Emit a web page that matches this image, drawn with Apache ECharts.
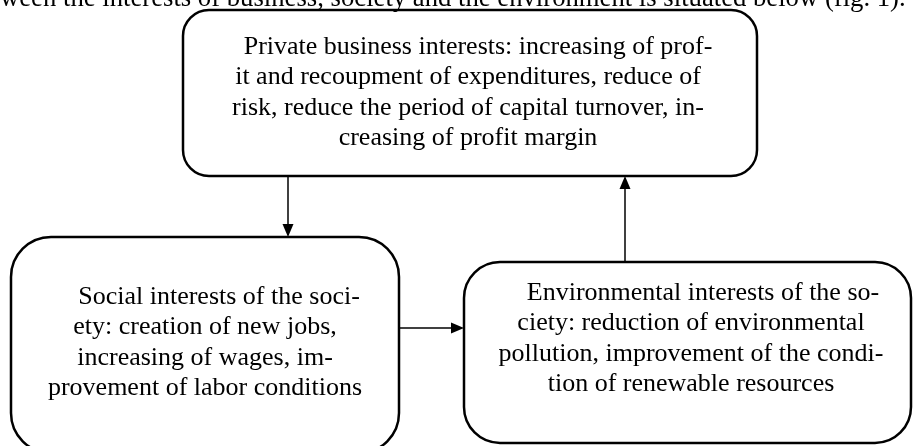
<!DOCTYPE html>
<html>
<head>
<meta charset="utf-8">
<script src="https://cdn.jsdelivr.net/npm/echarts@6/dist/echarts.min.js"></script>
<style>
  html, body { margin: 0; padding: 0; background: #fff; }
  #main { width: 918px; height: 446px; }
</style>
</head>
<body>
<div id="main"></div>
<script>
// text of the diagram
var headerLine = 'ween the interests of business, society and the environment is situated below (fig. 1).';
var businessLines = [
    'Private business interests: increasing of prof-',
    'it and recoupment of expenditures, reduce of',
    'risk, reduce the period of capital turnover, in-',
    'creasing of profit margin'
];
var socialLines = [
    'Social interests of the soci-',
    'ety: creation of new jobs,',
    'increasing of wages, im-',
    'provement of labor conditions'
];
var envLines = [
    'Environmental interests of the so-',
    'ciety: reduction of environmental',
    'pollution, improvement of the condi-',
    'tion of renewable resources'
];

var FONT = '"Liberation Serif", "Times New Roman", serif';
var FS = 26;
var LH = 30.5;

// box geometry
var boxes = [
    { lines: businessLines, x: 183, y: 10, w: 574, h: 166, r: 26, cx: 468, ty: 47, indent: 10 },
    { lines: socialLines, x: 11, y: 237, w: 388, h: 216, r: 40, cx: 205, ty: 297, indent: 14 },
    { lines: envLines, x: 464, y: 262, w: 447, h: 181, r: 36, cx: 691, ty: 293, indent: 12 }
];

var myChart = echarts.init(document.getElementById('main'));
var elements = [];

boxes.forEach(function (b) {
    elements.push({
        type: 'rect',
        shape: { x: b.x, y: b.y, width: b.w, height: b.h, r: b.r },
        style: { fill: '#fff', stroke: '#000', lineWidth: 2.5 }
    });
    b.lines.forEach(function (t, i) {
        elements.push({
            type: 'text',
            x: b.cx + (i === 0 ? b.indent : 0),
            y: b.ty + i * LH,
            style: {
                text: t,
                font: FS + 'px ' + FONT,
                fill: '#000',
                align: 'center',
                verticalAlign: 'middle'
            }
        });
    });
});

// cut-off line of the page text above the figure
elements.push({
    type: 'text',
    left: 0,
    top: -15,
    z: 10,
    style: { text: headerLine, font: '26.7px ' + FONT, fill: '#000' }
});

function arrow(x1, y1, x2, y2) {
    var dx = x2 - x1, dy = y2 - y1;
    var len = Math.sqrt(dx * dx + dy * dy);
    var ux = dx / len, uy = dy / len;
    var hl = 13, hw = 5.5;
    var bx = x2 - ux * hl, by = y2 - uy * hl;
    elements.push({
        type: 'line',
        shape: { x1: x1, y1: y1, x2: bx, y2: by },
        style: { stroke: '#000', lineWidth: 1.5 }
    });
    elements.push({
        type: 'polygon',
        shape: { points: [[x2, y2], [bx - uy * hw, by + ux * hw], [bx + uy * hw, by - ux * hw]] },
        style: { fill: '#000' }
    });
}

arrow(288, 176, 288, 237);
arrow(625, 262, 625, 176);
arrow(399, 328, 464, 328);

myChart.setOption({
    backgroundColor: '#fff',
    graphic: { elements: elements }
});
</script>
</body>
</html>
